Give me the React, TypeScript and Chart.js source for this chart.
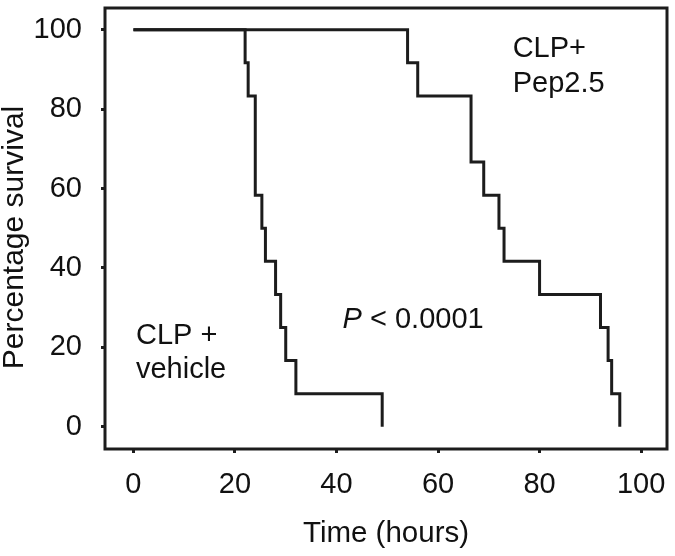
import React, { useEffect, useRef } from 'react';
import { Chart, registerables } from 'chart.js';

Chart.register(...registerables);

// Kaplan–Meier survival data
const vehicleHours = [0, 22, 22.6, 24, 25.3, 26, 28, 29, 30, 32, 49];
const vehicleSurvival = [100, 91.7, 83.3, 58.3, 50, 41.7, 33.3, 25, 16.7, 8.3, 0];

const pepHours = [0, 54, 56, 66.5, 69, 72, 73, 80, 92, 93.5, 94.2, 95.8];
const pepSurvival = [100, 91.7, 83.3, 66.7, 58.3, 50, 41.7, 33.3, 25, 16.7, 8.3, 0];

const xTicks = [0, 20, 40, 60, 80, 100];
const yTicks = [0, 20, 40, 60, 80, 100];

const xTitle = 'Time (hours)';
const yTitle = 'Percentage survival';

const pepLabel = ['CLP+', 'Pep2.5'];
const vehicleLabel = ['CLP +', 'vehicle'];
const pLabelItalic = 'P';
const pLabelRest = ' < 0.0001';

const FONT = '"Liberation Sans", Arial, Helvetica, sans-serif';
const INK = '#111111';
const LINE = '#1c1c1c';

// label anchors in data units (x = hours, y = % survival), baseline of each line
const annotations = {
  pep: { x: 74.7, y: [93.2, 84.4] },
  vehicle: { x: 0.5, y: [20.8, 12.3] },
  p: { x: 41.2, y: 24.9 },
};

const framePlugin = {
  id: 'frame',
  afterDatasetsDraw(chart: any) {
    const { ctx, chartArea: a, scales } = chart;
    ctx.save();
    ctx.strokeStyle = LINE;
    ctx.lineWidth = 3;
    ctx.strokeRect(a.left, a.top, a.right - a.left, a.bottom - a.top);

    const xs = scales.x;
    const ys = scales.y;
    ctx.fillStyle = INK;
    ctx.textBaseline = 'alphabetic';
    ctx.textAlign = 'left';
    ctx.font = `29px ${FONT}`;
    pepLabel.forEach((t, i) => {
      ctx.fillText(t, xs.getPixelForValue(annotations.pep.x), ys.getPixelForValue(annotations.pep.y[i]));
    });
    vehicleLabel.forEach((t, i) => {
      ctx.fillText(t, xs.getPixelForValue(annotations.vehicle.x), ys.getPixelForValue(annotations.vehicle.y[i]));
    });
    const px = xs.getPixelForValue(annotations.p.x);
    const py = ys.getPixelForValue(annotations.p.y);
    ctx.font = `italic 29px ${FONT}`;
    ctx.fillText(pLabelItalic, px, py);
    const w = ctx.measureText(pLabelItalic).width;
    ctx.font = `29px ${FONT}`;
    ctx.fillText(pLabelRest, px + w, py);

    // y-axis title
    ctx.translate(15, (a.top + a.bottom) / 2 + 9);
    ctx.rotate(-Math.PI / 2);
    ctx.textAlign = 'center';
    ctx.textBaseline = 'middle';
    ctx.font = `30px ${FONT}`;
    ctx.fillText(yTitle, 0, 0);
    ctx.restore();
  },
};

export default function App() {
  const ref = useRef<HTMLCanvasElement>(null);

  useEffect(() => {
    if (!ref.current) return;
    const chart = new Chart(ref.current, {
      type: 'line',
      data: {
        datasets: [
          {
            label: 'CLP + vehicle',
            data: vehicleHours.map((x, i) => ({ x, y: vehicleSurvival[i] })),
            stepped: true,
            borderColor: LINE,
            borderWidth: 3,
            pointRadius: 0,
            fill: false,
          },
          {
            label: 'CLP+ Pep2.5',
            data: pepHours.map((x, i) => ({ x, y: pepSurvival[i] })),
            stepped: true,
            borderColor: LINE,
            borderWidth: 3,
            pointRadius: 0,
            fill: false,
          },
        ],
      },
      options: {
        animation: false,
        responsive: false,
        layout: { padding: { top: 8, right: 8, left: 0, bottom: 0 } },
        plugins: {
          legend: { display: false },
          tooltip: { enabled: false },
        },
        scales: {
          x: {
            type: 'linear',
            min: -5.6,
            max: 105.1,
            afterBuildTicks: (s: any) => {
              s.ticks = xTicks.map((v) => ({ value: v }));
            },
            afterFit: (s: any) => {
              s.height = 107;
              s.paddingLeft = 0;
              s.paddingRight = 0;
            },
            grid: {
              display: true,
              drawOnChartArea: false,
              drawTicks: true,
              tickLength: 4,
              tickWidth: 3,
              tickColor: LINE,
              color: LINE,
            },
            border: { display: false },
            ticks: {
              font: { size: 29, family: FONT },
              color: INK,
              padding: 15,
              maxRotation: 0,
              autoSkip: false,
            },
            title: {
              display: true,
              text: xTitle,
              font: { size: 29.5, family: FONT },
              color: INK,
              padding: { top: 0, bottom: 4 },
            },
          },
          y: {
            type: 'linear',
            min: -5.6,
            max: 105.5,
            afterBuildTicks: (s: any) => {
              s.ticks = yTicks.map((v) => ({ value: v }));
            },
            afterFit: (s: any) => {
              s.width = 105;
              s.paddingTop = 0;
              s.paddingBottom = 0;
            },
            grid: {
              display: true,
              drawOnChartArea: false,
              drawTicks: true,
              tickLength: 4,
              tickWidth: 3,
              tickColor: LINE,
              color: LINE,
            },
            border: { display: false },
            ticks: {
              font: { size: 29, family: FONT },
              color: INK,
              padding: 19,
              autoSkip: false,
            },
            title: { display: false },
          },
        },
      },
      plugins: [framePlugin],
    });
    return () => chart.destroy();
  }, []);

  return (
    <div style={{ position: 'fixed', left: 0, top: 0, width: 675, height: 556, background: '#fff' }}>
      <canvas ref={ref} width={675} height={556} style={{ display: 'block' }} />
    </div>
  );
}
